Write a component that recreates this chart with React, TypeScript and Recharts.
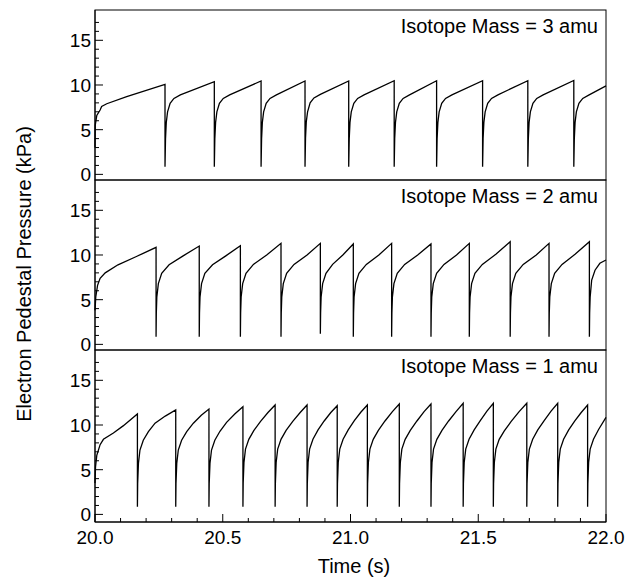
import { Line, LineChart, XAxis, YAxis } from 'recharts';

// [time (s), pressure (kPa)]
const MASS3 = [
  [20.0, 3.0], [20.001, 5.5], [20.007, 6.6], [20.02, 7.2], [20.026, 7.6], [20.046, 7.9], [20.124, 8.7], [20.274, 10.08],
  [20.274, 0.85], [20.276, 4.0], [20.279, 5.8], [20.284, 7.0], [20.294, 7.95], [20.309, 8.5], [20.334, 8.9], [20.467, 10.37],
  [20.467, 0.85], [20.469, 4.0], [20.472, 5.8], [20.477, 7.0], [20.487, 7.95], [20.502, 8.5], [20.527, 8.9], [20.65, 10.45],
  [20.65, 0.85], [20.652, 4.0], [20.655, 5.8], [20.66, 7.0], [20.67, 7.95], [20.685, 8.5], [20.71, 8.9], [20.822, 10.45],
  [20.822, 0.85], [20.824, 4.1], [20.827, 5.9], [20.832, 7.0], [20.842, 8.0], [20.857, 8.55], [20.882, 8.95], [20.993, 10.45],
  [20.993, 0.85], [20.995, 4.0], [20.998, 5.8], [21.003, 7.0], [21.013, 7.95], [21.028, 8.5], [21.053, 8.9], [21.171, 10.48],
  [21.171, 0.85], [21.173, 4.0], [21.176, 5.8], [21.181, 7.0], [21.191, 7.95], [21.206, 8.5], [21.231, 8.9], [21.337, 10.48],
  [21.337, 0.85], [21.339, 4.0], [21.342, 5.8], [21.347, 7.0], [21.357, 7.95], [21.372, 8.5], [21.397, 8.9], [21.517, 10.48],
  [21.517, 0.85], [21.519, 4.0], [21.522, 5.8], [21.527, 7.0], [21.537, 7.95], [21.552, 8.5], [21.577, 8.9], [21.694, 10.48],
  [21.694, 0.85], [21.696, 4.0], [21.699, 5.8], [21.704, 7.0], [21.714, 7.95], [21.729, 8.5], [21.754, 8.9], [21.874, 10.5],
  [21.874, 0.85], [21.876, 4.0], [21.879, 5.8], [21.884, 7.0], [21.894, 7.95], [21.909, 8.5], [21.934, 8.9], [22.0, 9.9],
];

const MASS2 = [
  [20.0, 3.8], [20.003, 5.3], [20.01, 6.6], [20.02, 7.4], [20.04, 8.0], [20.09, 8.9], [20.16, 9.8], [20.239, 10.86],
  [20.239, 0.85], [20.24, 3.5], [20.242, 5.3], [20.248, 6.8], [20.261, 7.95], [20.29, 8.9], [20.345, 9.9], [20.408, 11.0],
  [20.408, 0.85], [20.409, 3.5], [20.411, 5.3], [20.417, 6.8], [20.43, 7.95], [20.46, 8.9], [20.512, 9.9], [20.569, 11.04],
  [20.569, 0.85], [20.57, 3.5], [20.572, 5.3], [20.578, 6.8], [20.591, 7.95], [20.62, 8.95], [20.672, 10.0], [20.728, 11.3],
  [20.728, 0.85], [20.729, 3.5], [20.731, 5.3], [20.737, 6.8], [20.75, 7.95], [20.779, 8.95], [20.83, 10.0], [20.882, 11.3],
  [20.882, 1.2], [20.883, 3.5], [20.885, 5.3], [20.891, 6.8], [20.904, 7.95], [20.93, 8.95], [20.97, 10.0], [21.011, 11.23],
  [21.011, 0.85], [21.012, 3.5], [21.014, 5.3], [21.02, 6.8], [21.033, 7.95], [21.062, 8.95], [21.111, 10.0], [21.161, 11.3],
  [21.161, 0.85], [21.162, 3.5], [21.164, 5.3], [21.17, 6.8], [21.183, 7.95], [21.212, 8.95], [21.263, 10.0], [21.315, 11.23],
  [21.315, 0.85], [21.316, 3.5], [21.318, 5.3], [21.324, 6.8], [21.337, 7.95], [21.366, 8.95], [21.415, 10.0], [21.465, 11.3],
  [21.465, 0.85], [21.466, 3.5], [21.468, 5.3], [21.474, 6.8], [21.487, 7.95], [21.516, 8.95], [21.57, 10.1], [21.625, 11.49],
  [21.625, 0.85], [21.626, 3.5], [21.628, 5.3], [21.634, 6.8], [21.647, 7.95], [21.676, 8.95], [21.727, 10.0], [21.777, 11.3],
  [21.777, 0.85], [21.778, 3.5], [21.78, 5.3], [21.786, 6.8], [21.799, 7.95], [21.828, 8.95], [21.88, 10.1], [21.935, 11.49],
  [21.935, 0.85], [21.936, 3.5], [21.938, 5.3], [21.944, 7.2], [21.957, 8.3], [21.976, 9.07], [22.0, 9.44],
];

const MASS1 = [
  [20.0, 3.5], [20.002, 5.3], [20.007, 6.6], [20.02, 7.8], [20.033, 8.4], [20.072, 9.1], [20.11, 9.9], [20.166, 11.23],
  [20.166, 0.85], [20.167, 3.5], [20.17, 5.7], [20.176, 7.2], [20.189, 8.3], [20.209, 9.25], [20.235, 10.2], [20.275, 11.0], [20.316, 11.68],
  [20.316, 0.85], [20.317, 3.5], [20.32, 5.7], [20.326, 7.2], [20.339, 8.3], [20.359, 9.25], [20.385, 10.2], [20.416, 11.1], [20.446, 11.79],
  [20.446, 0.85], [20.447, 3.5], [20.45, 5.7], [20.456, 7.2], [20.469, 8.3], [20.489, 9.3], [20.515, 10.3], [20.548, 11.25], [20.579, 12.05],
  [20.579, 0.85], [20.58, 3.5], [20.583, 5.8], [20.589, 7.3], [20.602, 8.4], [20.622, 9.4], [20.648, 10.4], [20.677, 11.4], [20.705, 12.24],
  [20.705, 0.85], [20.706, 3.5], [20.709, 5.8], [20.715, 7.3], [20.728, 8.4], [20.748, 9.4], [20.774, 10.4], [20.803, 11.4], [20.83, 12.24],
  [20.83, 0.85], [20.831, 3.5], [20.834, 5.8], [20.84, 7.3], [20.853, 8.4], [20.873, 9.45], [20.897, 10.45], [20.923, 11.4], [20.948, 12.16],
  [20.948, 0.85], [20.949, 3.5], [20.952, 5.8], [20.958, 7.3], [20.971, 8.4], [20.991, 9.45], [21.015, 10.5], [21.041, 11.45], [21.066, 12.24],
  [21.066, 0.85], [21.067, 3.5], [21.07, 5.8], [21.076, 7.3], [21.089, 8.4], [21.109, 9.4], [21.135, 10.45], [21.164, 11.5], [21.191, 12.35],
  [21.191, 0.85], [21.192, 3.5], [21.195, 5.8], [21.201, 7.3], [21.214, 8.4], [21.234, 9.4], [21.26, 10.45], [21.288, 11.5], [21.315, 12.35],
  [21.315, 0.85], [21.316, 3.5], [21.319, 5.8], [21.325, 7.3], [21.338, 8.4], [21.358, 9.4], [21.384, 10.45], [21.413, 11.5], [21.441, 12.43],
  [21.441, 0.85], [21.442, 3.5], [21.445, 5.8], [21.451, 7.3], [21.464, 8.4], [21.484, 9.45], [21.508, 10.5], [21.534, 11.55], [21.559, 12.43],
  [21.559, 0.85], [21.56, 3.5], [21.563, 5.8], [21.569, 7.3], [21.582, 8.4], [21.602, 9.35], [21.629, 10.4], [21.66, 11.5], [21.69, 12.43],
  [21.69, 0.85], [21.691, 3.5], [21.694, 5.8], [21.7, 7.3], [21.713, 8.4], [21.733, 9.45], [21.758, 10.5], [21.785, 11.55], [21.811, 12.43],
  [21.811, 0.85], [21.812, 3.5], [21.815, 5.8], [21.821, 7.3], [21.834, 8.4], [21.854, 9.45], [21.878, 10.45], [21.903, 11.4], [21.928, 12.24],
  [21.928, 0.85], [21.929, 3.5], [21.932, 5.8], [21.938, 7.3], [21.951, 8.4], [21.971, 9.5], [22.0, 10.86],
];

const TIME_TICKS = [
  20.0, 20.1, 20.2, 20.3, 20.4, 20.5, 20.6, 20.7, 20.8, 20.9,
  21.0, 21.1, 21.2, 21.3, 21.4, 21.5, 21.6, 21.7, 21.8, 21.9, 22.0,
];
const PRESSURE_TICKS = [0, 1, 2, 3, 4, 5, 6, 7, 8, 9, 10, 11, 12, 13, 14, 15, 16, 17];
const PANEL_LABELS = ['Isotope Mass = 3 amu', 'Isotope Mass = 2 amu', 'Isotope Mass = 1 amu'];

const FONT = '"Liberation Sans", Arial, Helvetica, sans-serif';
const W = 635;
const H = 578;
const PLOT_LEFT = 95;
const PLOT_RIGHT = 606;
const Y_MAX = 18.39;

const isMultiple = (v: number, step: number) => Math.abs(v / step - Math.round(v / step)) < 1e-6;

function TimeTick(props: any) {
  const { x, y, payload, showLabel } = props;
  const v = payload.value as number;
  const major = isMultiple(v, 0.5);
  return (
    <g>
      <line x1={x} x2={x} y1={y} y2={y - (major ? 8 : 4)} stroke="#000" strokeWidth={1} />
      {showLabel && major && (
        <text x={x} y={y + 22} textAnchor="middle" fontSize={19} fontFamily={FONT} fill="#000">
          {v.toFixed(1)}
        </text>
      )}
    </g>
  );
}

function PressureTick(props: any) {
  const { x, y, payload } = props;
  const v = payload.value as number;
  const major = isMultiple(v, 5);
  return (
    <g>
      <line x1={x} x2={x + (major ? 8 : 4)} y1={y} y2={y} stroke="#000" strokeWidth={1} />
      {major && (
        <text x={x - 4} y={y} dy="0.36em" textAnchor="end" fontSize={19} fontFamily={FONT} fill="#000">
          {v}
        </text>
      )}
    </g>
  );
}

interface PanelProps {
  series: number[][];
  top: number;
  height: number;
  yMin: number;
  showTimeLabels?: boolean;
}

function Panel({ series, top, height, yMin, showTimeLabels = false }: PanelProps) {
  const rows = series.map(([t, p]) => ({ t, p }));
  const axisH = showTimeLabels ? 56 : 0;
  // spare room under the upper panels so the "0" label is not clipped
  const pad = showTimeLabels ? 0 : 14;
  return (
    <div style={{ position: 'absolute', left: 0, top }}>
      <LineChart
        width={W}
        height={height + axisH + pad}
        data={rows}
        margin={{ top: 0, right: W - PLOT_RIGHT, bottom: pad, left: PLOT_LEFT - 40 }}
      >
        <XAxis
          dataKey="t"
          type="number"
          domain={[20, 22]}
          ticks={TIME_TICKS}
          interval={0}
          height={axisH}
          tickSize={0}
          tickMargin={0}
          tickLine={false}
          axisLine={{ stroke: '#000' }}
          tick={(p: any) => <TimeTick {...p} showLabel={showTimeLabels} />}
        />
        <YAxis
          type="number"
          domain={[yMin, Y_MAX]}
          ticks={PRESSURE_TICKS}
          interval={0}
          width={40}
          tickSize={0}
          tickMargin={0}
          tickLine={false}
          axisLine={{ stroke: '#000' }}
          tick={(p: any) => <PressureTick {...p} />}
        />
        <Line
          dataKey="p"
          type="linear"
          stroke="#000"
          strokeWidth={1.3}
          dot={false}
          isAnimationActive={false}
        />
      </LineChart>
    </div>
  );
}

const PANELS = [
  { series: MASS3, top: 10, height: 170, yMin: -0.63 },
  { series: MASS2, top: 180, height: 170, yMin: -0.63 },
  { series: MASS1, top: 350, height: 172, yMin: -0.85 },
];

export default function App() {
  return (
    <div style={{ position: 'absolute', left: 0, top: 0, width: W, height: H, background: '#fff' }}>
      {PANELS.map((p, i) => (
        <Panel key={i} {...p} showTimeLabels={i === PANELS.length - 1} />
      ))}
      <svg
        width={W}
        height={H}
        style={{ position: 'absolute', left: 0, top: 0, pointerEvents: 'none' }}
        fontFamily={FONT}
      >
        {PANELS.map((p, i) => (
          <g key={i}>
            <rect
              x={PLOT_LEFT}
              y={p.top}
              width={PLOT_RIGHT - PLOT_LEFT}
              height={p.height}
              fill="none"
              stroke="#000"
              strokeWidth={1}
            />
            <text x={598} y={p.top + 23} textAnchor="end" fontSize={20} fill="#000">
              {PANEL_LABELS[i]}
            </text>
          </g>
        ))}
        <text x={354} y={573} textAnchor="middle" fontSize={20} fill="#000">
          Time (s)
        </text>
        <text transform="translate(31 274) rotate(-90)" textAnchor="middle" fontSize={20} fill="#000">
          Electron Pedestal Pressure (kPa)
        </text>
      </svg>
    </div>
  );
}
